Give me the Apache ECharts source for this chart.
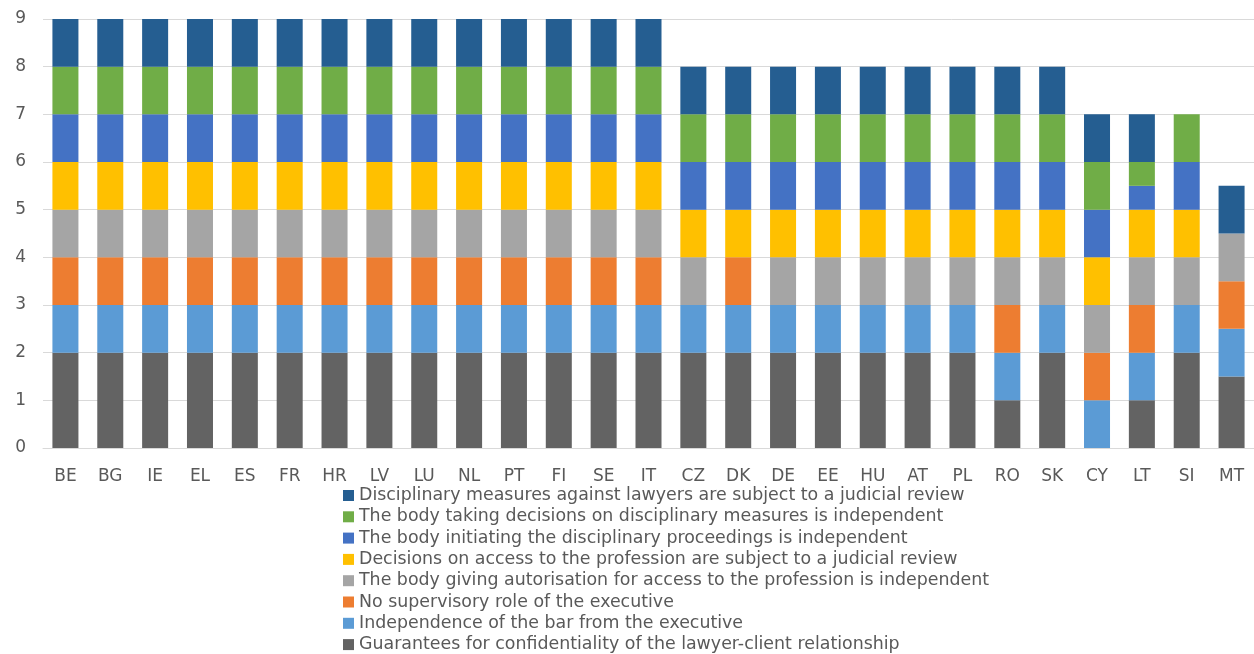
<!DOCTYPE html>
<html>
<head>
<meta charset="utf-8">
<script src="https://cdn.jsdelivr.net/npm/echarts@6/dist/echarts.min.js"></script>
<style>html,body{margin:0;padding:0;background:#fff}#c{width:1254px;height:654px}</style>
</head>
<body>
<div id="c"></div>
<script>
const countries = ["BE","BG","IE","EL","ES","FR","HR","LV","LU","NL","PT","FI","SE","IT","CZ","DK","DE","EE","HU","AT","PL","RO","SK","CY","LT","SI","MT"];
const seriesNames = [
  "Guarantees for confidentiality of the lawyer-client relationship",
  "Independence of the bar from the executive",
  "No supervisory role of the executive",
  "The body giving autorisation for access to the profession is independent",
  "Decisions on access to the profession are subject to a judicial review",
  "The body initiating the disciplinary proceedings is independent",
  "The body taking decisions on disciplinary measures is independent",
  "Disciplinary measures against lawyers are subject to a judicial review"
];
const colors = ["#636363","#5B9BD5","#ED7D31","#A5A5A5","#FFC000","#4472C4","#70AD47","#255E91"];
const guarantees   = [2,2,2,2,2,2,2,2,2,2,2,2,2,2, 2,2,2,2,2,2,2,1,2, 0,1,2,1.5];
const barIndep     = [1,1,1,1,1,1,1,1,1,1,1,1,1,1, 1,1,1,1,1,1,1,1,1, 1,1,1,1];
const noSupervisory= [1,1,1,1,1,1,1,1,1,1,1,1,1,1, 0,1,0,0,0,0,0,1,0, 1,1,0,1];
const authIndep    = [1,1,1,1,1,1,1,1,1,1,1,1,1,1, 1,0,1,1,1,1,1,1,1, 1,1,1,1];
const accessReview = [1,1,1,1,1,1,1,1,1,1,1,1,1,1, 1,1,1,1,1,1,1,1,1, 1,1,1,0];
const initIndep    = [1,1,1,1,1,1,1,1,1,1,1,1,1,1, 1,1,1,1,1,1,1,1,1, 1,0.5,1,0];
const decideIndep  = [1,1,1,1,1,1,1,1,1,1,1,1,1,1, 1,1,1,1,1,1,1,1,1, 1,0.5,1,0];
const discReview   = [1,1,1,1,1,1,1,1,1,1,1,1,1,1, 1,1,1,1,1,1,1,1,1, 1,1,0,1];
const yTicks = [0,1,2,3,4,5,6,7,8,9];
const values = [guarantees,barIndep,noSupervisory,authIndep,accessReview,initIndep,decideIndep,discReview];

const font = "DejaVu Sans";
const chart = echarts.init(document.getElementById('c'), null, {renderer:'canvas'});
chart.setOption({
  animation:false,
  color: colors,
  grid:{left:43,right:0,top:19,bottom:206,containLabel:false},
  xAxis:{type:'category',data:countries,
    axisLine:{lineStyle:{color:'#D9D9D9',width:1}},
    axisTick:{show:false},
    axisLabel:{color:'#595959',fontSize:17,fontFamily:font,margin:20,interval:0}},
  yAxis:{type:'value',min:yTicks[0],max:yTicks[yTicks.length-1],interval:1,
    axisLine:{show:false},axisTick:{show:false},
    splitLine:{lineStyle:{color:'#D9D9D9',width:1}},
    axisLabel:{color:'#595959',fontSize:17,fontFamily:font,margin:17}},
  legend:{orient:'vertical',left:343,top:487,itemWidth:11,itemHeight:11,itemGap:4.3,
    icon:'rect',padding:0,
    data:seriesNames.slice().reverse(),
    textStyle:{color:'#595959',fontSize:17.4,lineHeight:16,fontFamily:font}},
  series: seriesNames.map((n,i)=>({
    name:n,type:'bar',stack:'total',data:values[i],
    barCategoryGap:'42%',
    itemStyle:{color:colors[i]}
  }))
});
</script>
</body>
</html>
